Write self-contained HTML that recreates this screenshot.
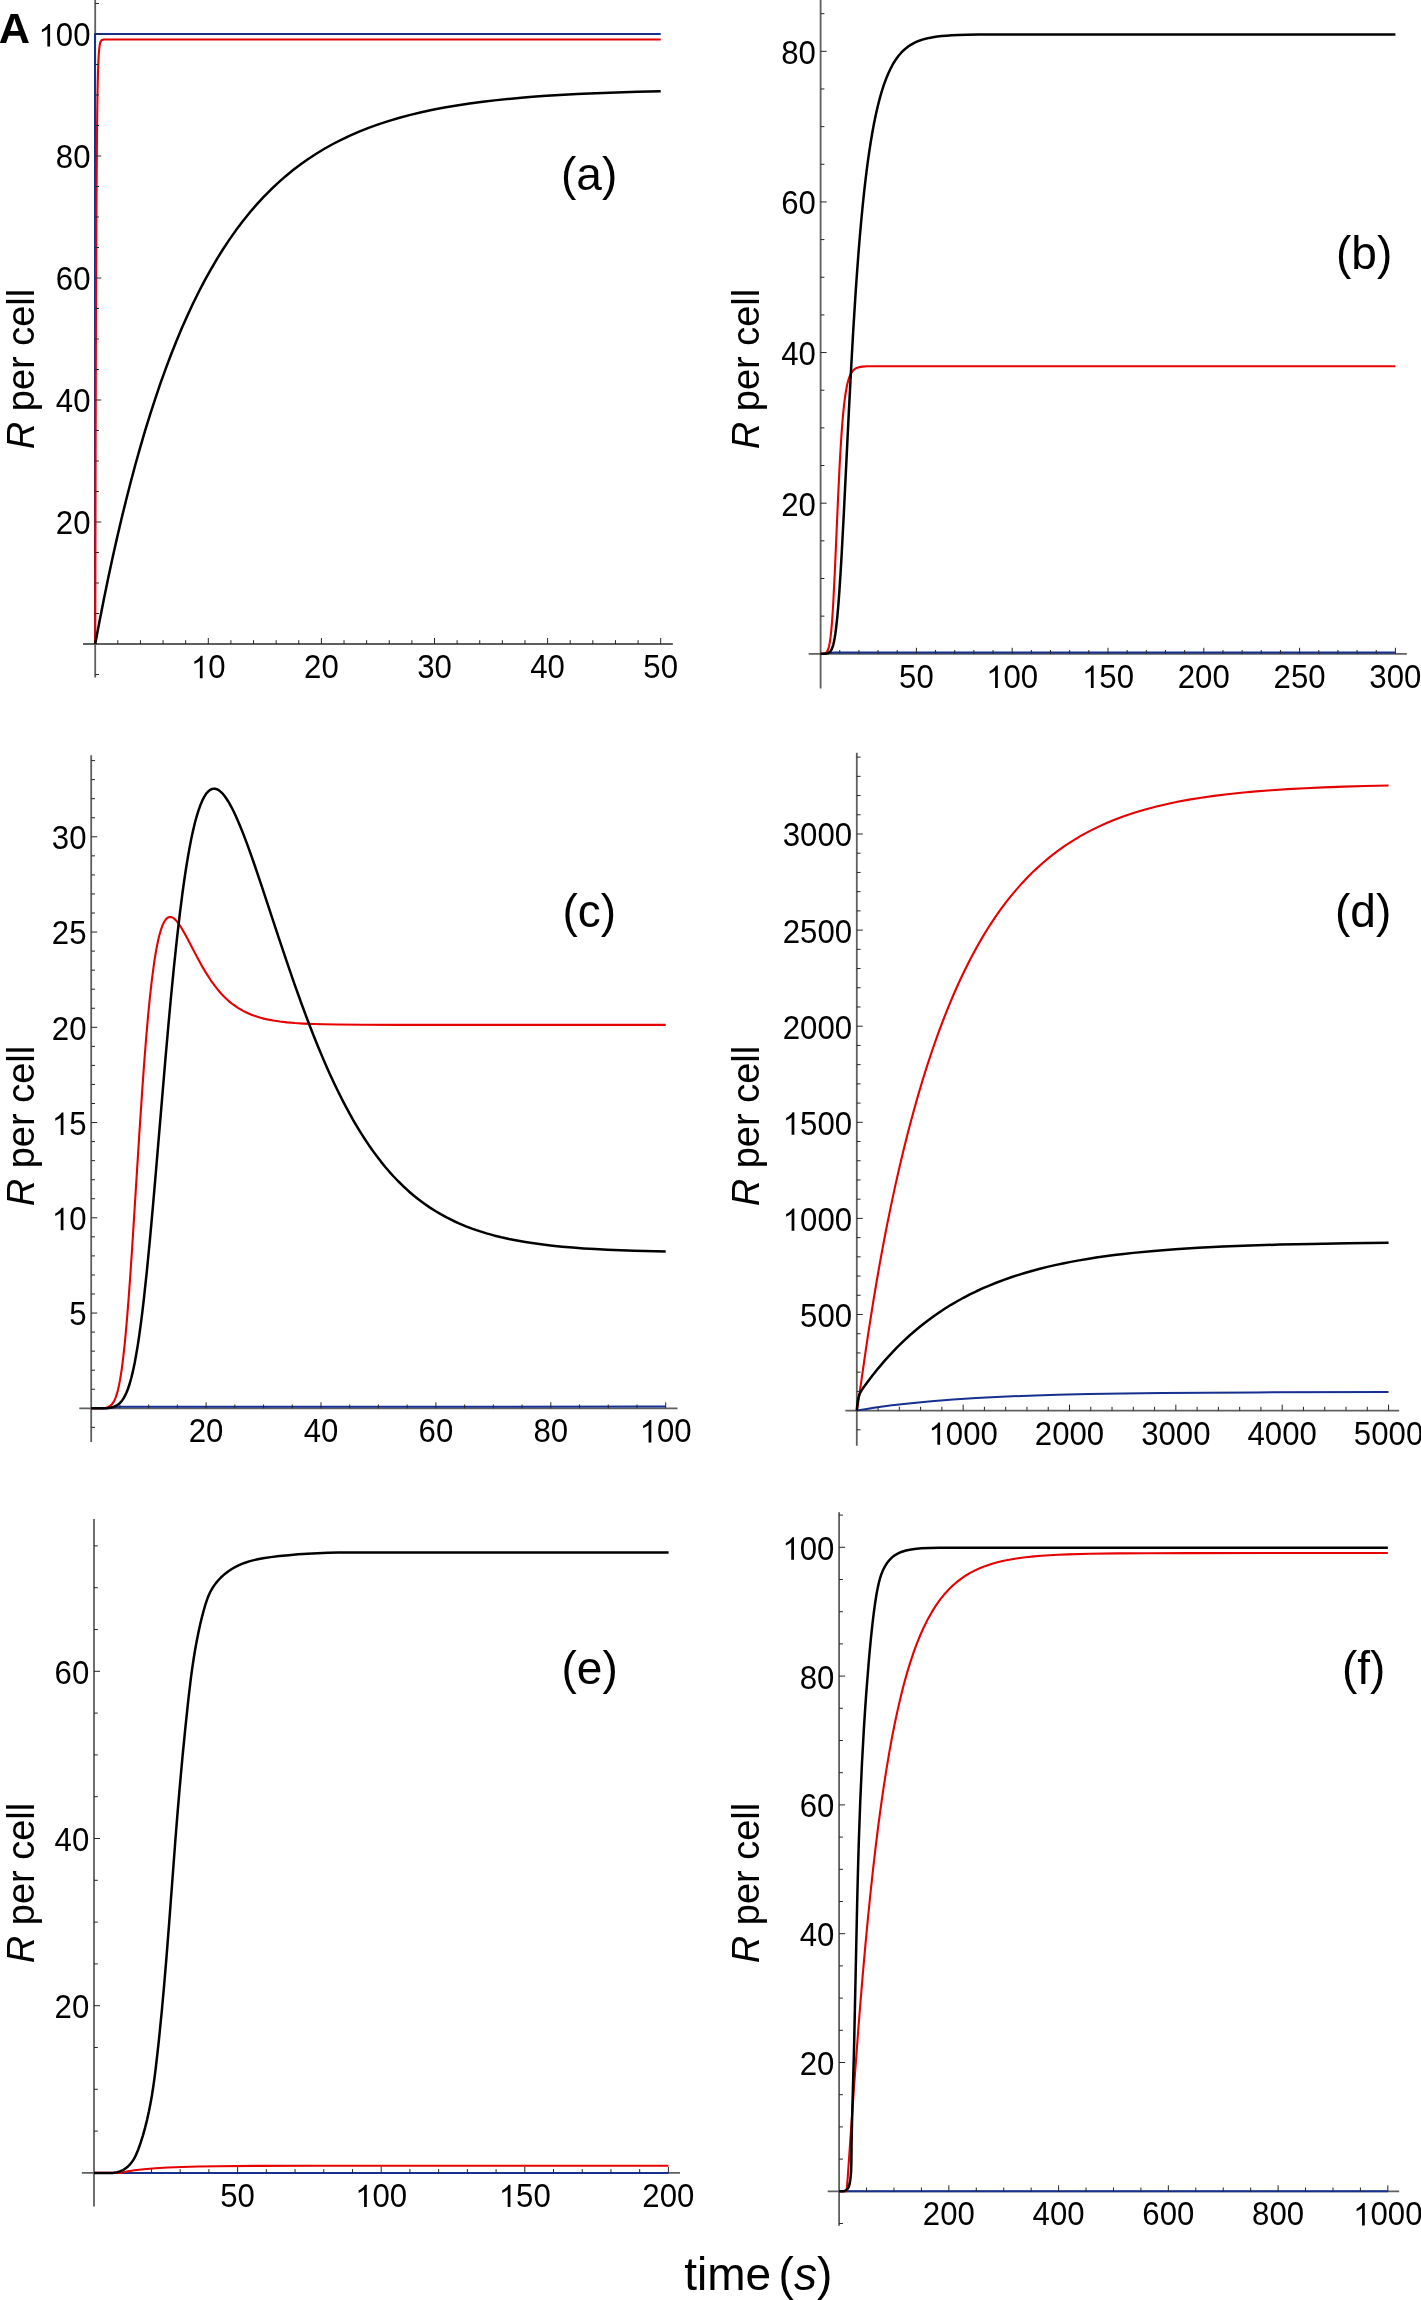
<!DOCTYPE html>
<html><head><meta charset="utf-8"><style>
html,body{margin:0;padding:0;background:#fff;}
svg{display:block;will-change:transform;}
text{font-family:"Liberation Sans", sans-serif;fill:#000;}
path{}
</style></head><body>
<svg xmlns="http://www.w3.org/2000/svg" width="1421" height="2300" viewBox="0 0 1421 2300">
<rect width="1421" height="2300" fill="#fff"/>
<g id="pa">
<line x1="83.00" y1="644.00" x2="672.80" y2="644.00" stroke="#5f5f5f" stroke-width="1.8"/>
<line x1="95.20" y1="0.00" x2="95.20" y2="677.50" stroke="#5f5f5f" stroke-width="1.8"/>
<path d="M95.00,644.00 L95.00,34.00 L660.70,34.00" fill="none" stroke="#15308f" stroke-width="2.0" stroke-linejoin="round" stroke-linecap="butt"/>
<path d="M95.20,644.00 L95.55,458.02 L95.96,314.72 L96.42,208.90 L96.98,134.25 L97.29,108.56 L97.62,88.02 L98.01,72.12 L98.44,60.17 L98.95,51.76 L99.55,46.06 L99.90,44.04 L100.30,42.48 L100.77,41.33 L101.33,40.52 L102.09,39.96 L103.11,39.65 L104.57,39.53 L107.45,39.49 L660.70,39.49" fill="none" stroke="#e60000" stroke-width="2.1" stroke-linejoin="round" stroke-linecap="butt"/>
<path d="M95.20,644.00 L99.42,621.70 L103.70,599.98 L108.05,578.84 L112.46,558.32 L116.92,538.37 L121.45,519.02 L126.06,500.21 L130.73,481.95 L135.47,464.25 L140.29,447.09 L145.18,430.47 L150.15,414.37 L155.20,398.77 L160.33,383.70 L165.56,369.11 L170.87,355.02 L176.26,341.43 L181.75,328.33 L187.33,315.68 L193.02,303.48 L198.82,291.73 L204.73,280.41 L210.75,269.53 L216.89,259.06 L223.16,249.01 L229.55,239.37 L236.08,230.12 L242.75,221.26 L249.56,212.78 L256.55,204.66 L263.67,196.91 L270.97,189.52 L278.06,182.82 L285.33,176.41 L292.77,170.31 L300.40,164.49 L308.21,158.97 L316.24,153.71 L324.47,148.73 L332.92,144.01 L341.60,139.56 L350.54,135.34 L359.73,131.38 L369.23,127.63 L379.01,124.12 L389.11,120.83 L399.57,117.74 L410.37,114.87 L421.31,112.25 L432.68,109.81 L444.47,107.54 L456.74,105.45 L469.49,103.52 L482.81,101.75 L496.73,100.12 L511.32,98.64 L526.50,97.30 L542.48,96.09 L559.30,95.01 L577.11,94.04 L596.00,93.18 L616.11,92.42 L637.60,91.76 L660.70,91.18" fill="none" stroke="#000000" stroke-width="2.5" stroke-linejoin="round" stroke-linecap="butt"/>
<line x1="117.82" y1="644.00" x2="117.82" y2="640.20" stroke="#262626" stroke-width="1"/>
<line x1="140.44" y1="644.00" x2="140.44" y2="640.20" stroke="#262626" stroke-width="1"/>
<line x1="163.06" y1="644.00" x2="163.06" y2="640.20" stroke="#262626" stroke-width="1"/>
<line x1="185.68" y1="644.00" x2="185.68" y2="640.20" stroke="#262626" stroke-width="1"/>
<line x1="208.30" y1="644.00" x2="208.30" y2="638.00" stroke="#262626" stroke-width="1"/>
<g transform="translate(190.95,678.15) scale(1,1.065)"><text x="0" y="0" font-size="31.2"> 0</text><path d="M765 0L585 0L585 1147Q520 1085 415 1023Q310 961 227 930L227 1104Q376 1174 488 1274Q600 1374 647 1466L765 1466Z" transform="translate(0.00,0) scale(0.015234,-0.014305)"/></g>
<line x1="230.92" y1="644.00" x2="230.92" y2="640.20" stroke="#262626" stroke-width="1"/>
<line x1="253.54" y1="644.00" x2="253.54" y2="640.20" stroke="#262626" stroke-width="1"/>
<line x1="276.16" y1="644.00" x2="276.16" y2="640.20" stroke="#262626" stroke-width="1"/>
<line x1="298.78" y1="644.00" x2="298.78" y2="640.20" stroke="#262626" stroke-width="1"/>
<line x1="321.40" y1="644.00" x2="321.40" y2="638.00" stroke="#262626" stroke-width="1"/>
<g transform="translate(304.05,678.15) scale(1,1.065)"><text x="0" y="0" font-size="31.2">20</text></g>
<line x1="344.02" y1="644.00" x2="344.02" y2="640.20" stroke="#262626" stroke-width="1"/>
<line x1="366.64" y1="644.00" x2="366.64" y2="640.20" stroke="#262626" stroke-width="1"/>
<line x1="389.26" y1="644.00" x2="389.26" y2="640.20" stroke="#262626" stroke-width="1"/>
<line x1="411.88" y1="644.00" x2="411.88" y2="640.20" stroke="#262626" stroke-width="1"/>
<line x1="434.50" y1="644.00" x2="434.50" y2="638.00" stroke="#262626" stroke-width="1"/>
<g transform="translate(417.15,678.15) scale(1,1.065)"><text x="0" y="0" font-size="31.2">30</text></g>
<line x1="457.12" y1="644.00" x2="457.12" y2="640.20" stroke="#262626" stroke-width="1"/>
<line x1="479.74" y1="644.00" x2="479.74" y2="640.20" stroke="#262626" stroke-width="1"/>
<line x1="502.36" y1="644.00" x2="502.36" y2="640.20" stroke="#262626" stroke-width="1"/>
<line x1="524.98" y1="644.00" x2="524.98" y2="640.20" stroke="#262626" stroke-width="1"/>
<line x1="547.60" y1="644.00" x2="547.60" y2="638.00" stroke="#262626" stroke-width="1"/>
<g transform="translate(530.25,678.15) scale(1,1.065)"><text x="0" y="0" font-size="31.2">40</text></g>
<line x1="570.22" y1="644.00" x2="570.22" y2="640.20" stroke="#262626" stroke-width="1"/>
<line x1="592.84" y1="644.00" x2="592.84" y2="640.20" stroke="#262626" stroke-width="1"/>
<line x1="615.46" y1="644.00" x2="615.46" y2="640.20" stroke="#262626" stroke-width="1"/>
<line x1="638.08" y1="644.00" x2="638.08" y2="640.20" stroke="#262626" stroke-width="1"/>
<line x1="660.70" y1="644.00" x2="660.70" y2="638.00" stroke="#262626" stroke-width="1"/>
<g transform="translate(643.35,678.15) scale(1,1.065)"><text x="0" y="0" font-size="31.2">50</text></g>
<line x1="95.20" y1="674.50" x2="99.00" y2="674.50" stroke="#262626" stroke-width="1"/>
<line x1="95.20" y1="613.50" x2="99.00" y2="613.50" stroke="#262626" stroke-width="1"/>
<line x1="95.20" y1="583.00" x2="99.00" y2="583.00" stroke="#262626" stroke-width="1"/>
<line x1="95.20" y1="552.50" x2="99.00" y2="552.50" stroke="#262626" stroke-width="1"/>
<line x1="95.20" y1="522.00" x2="101.20" y2="522.00" stroke="#262626" stroke-width="1"/>
<g transform="translate(55.80,534.40) scale(1,1.065)"><text x="0" y="0" font-size="31.2">20</text></g>
<line x1="95.20" y1="491.50" x2="99.00" y2="491.50" stroke="#262626" stroke-width="1"/>
<line x1="95.20" y1="461.00" x2="99.00" y2="461.00" stroke="#262626" stroke-width="1"/>
<line x1="95.20" y1="430.50" x2="99.00" y2="430.50" stroke="#262626" stroke-width="1"/>
<line x1="95.20" y1="400.00" x2="101.20" y2="400.00" stroke="#262626" stroke-width="1"/>
<g transform="translate(55.80,412.40) scale(1,1.065)"><text x="0" y="0" font-size="31.2">40</text></g>
<line x1="95.20" y1="369.50" x2="99.00" y2="369.50" stroke="#262626" stroke-width="1"/>
<line x1="95.20" y1="339.00" x2="99.00" y2="339.00" stroke="#262626" stroke-width="1"/>
<line x1="95.20" y1="308.50" x2="99.00" y2="308.50" stroke="#262626" stroke-width="1"/>
<line x1="95.20" y1="278.00" x2="101.20" y2="278.00" stroke="#262626" stroke-width="1"/>
<g transform="translate(55.80,290.40) scale(1,1.065)"><text x="0" y="0" font-size="31.2">60</text></g>
<line x1="95.20" y1="247.50" x2="99.00" y2="247.50" stroke="#262626" stroke-width="1"/>
<line x1="95.20" y1="217.00" x2="99.00" y2="217.00" stroke="#262626" stroke-width="1"/>
<line x1="95.20" y1="186.50" x2="99.00" y2="186.50" stroke="#262626" stroke-width="1"/>
<line x1="95.20" y1="156.00" x2="101.20" y2="156.00" stroke="#262626" stroke-width="1"/>
<g transform="translate(55.80,168.40) scale(1,1.065)"><text x="0" y="0" font-size="31.2">80</text></g>
<line x1="95.20" y1="125.50" x2="99.00" y2="125.50" stroke="#262626" stroke-width="1"/>
<line x1="95.20" y1="95.00" x2="99.00" y2="95.00" stroke="#262626" stroke-width="1"/>
<line x1="95.20" y1="64.50" x2="99.00" y2="64.50" stroke="#262626" stroke-width="1"/>
<line x1="95.20" y1="34.00" x2="101.20" y2="34.00" stroke="#262626" stroke-width="1"/>
<g transform="translate(38.44,46.40) scale(1,1.065)"><text x="0" y="0" font-size="31.2"> 00</text><path d="M765 0L585 0L585 1147Q520 1085 415 1023Q310 961 227 930L227 1104Q376 1174 488 1274Q600 1374 647 1466L765 1466Z" transform="translate(0.00,0) scale(0.015234,-0.014305)"/></g>
<line x1="95.20" y1="3.50" x2="99.00" y2="3.50" stroke="#262626" stroke-width="1"/>
<text x="561.00" y="190.10" font-size="46">(a)</text>
<text transform="translate(33.90,369.00) rotate(-90)" text-anchor="middle" font-size="38"><tspan font-style="italic">R</tspan> per cell</text>
</g>
<g id="pb">
<line x1="808.70" y1="653.80" x2="1406.80" y2="653.80" stroke="#5f5f5f" stroke-width="1.8"/>
<line x1="820.60" y1="0.00" x2="820.60" y2="688.40" stroke="#5f5f5f" stroke-width="1.8"/>
<path d="M820.60,653.80 L826.00,653.70 L829.50,653.00 L834.00,652.50 L840.00,652.40 L1395.40,652.40" fill="none" stroke="#15308f" stroke-width="2.0" stroke-linejoin="round" stroke-linecap="butt"/>
<path d="M820.60,653.78 L823.30,653.65 L824.21,653.50 L824.97,653.28 L825.65,652.95 L826.25,652.51 L826.79,651.94 L827.28,651.24 L827.76,650.31 L828.22,649.19 L829.05,646.28 L829.81,642.40 L830.53,637.38 L831.24,630.86 L831.93,622.89 L832.62,613.23 L833.32,601.75 L834.76,573.18 L838.00,499.36 L839.58,466.64 L840.48,450.37 L841.39,436.08 L842.30,423.69 L843.23,412.95 L844.36,402.36 L845.57,393.47 L846.87,386.20 L847.57,383.10 L848.29,380.37 L849.05,377.96 L849.86,375.85 L850.72,374.00 L851.64,372.41 L852.63,371.05 L853.70,369.91 L854.88,368.96 L856.18,368.20 L857.49,367.64 L858.95,367.20 L860.61,366.86 L862.54,366.60 L867.44,366.32 L875.69,366.22 L1395.40,366.20" fill="none" stroke="#e60000" stroke-width="2.1" stroke-linejoin="round" stroke-linecap="butt"/>
<path d="M820.60,653.79 L823.68,653.73 L825.64,653.62 L827.10,653.39 L828.26,653.03 L829.30,652.45 L830.21,651.62 L831.03,650.51 L831.78,649.09 L832.57,647.05 L833.31,644.54 L834.02,641.51 L834.70,637.89 L835.36,633.68 L836.01,628.78 L837.28,617.03 L838.33,605.13 L839.39,590.92 L840.48,574.30 L841.63,554.85 L843.78,514.42 L848.49,418.93 L850.74,375.24 L853.19,331.36 L855.59,293.20 L856.97,273.29 L858.36,254.67 L859.79,237.07 L861.25,220.57 L862.75,205.01 L864.29,190.39 L865.90,176.58 L867.55,163.64 L869.12,152.49 L870.74,141.95 L872.42,132.04 L874.16,122.75 L875.96,114.08 L877.82,105.96 L879.76,98.41 L881.77,91.39 L883.85,84.92 L886.02,78.96 L888.27,73.49 L890.63,68.47 L893.09,63.91 L895.67,59.78 L898.37,56.04 L901.23,52.69 L903.45,50.45 L905.77,48.40 L908.19,46.53 L910.73,44.84 L913.40,43.31 L916.22,41.94 L919.19,40.72 L922.35,39.64 L925.66,38.71 L929.21,37.90 L933.01,37.19 L937.14,36.59 L941.60,36.09 L946.50,35.67 L951.93,35.33 L958.01,35.06 L967.18,34.79 L978.39,34.62 L1012.48,34.46 L1395.40,34.44" fill="none" stroke="#000000" stroke-width="2.5" stroke-linejoin="round" stroke-linecap="butt"/>
<line x1="839.76" y1="653.80" x2="839.76" y2="650.00" stroke="#262626" stroke-width="1"/>
<line x1="858.92" y1="653.80" x2="858.92" y2="650.00" stroke="#262626" stroke-width="1"/>
<line x1="878.08" y1="653.80" x2="878.08" y2="650.00" stroke="#262626" stroke-width="1"/>
<line x1="897.24" y1="653.80" x2="897.24" y2="650.00" stroke="#262626" stroke-width="1"/>
<line x1="916.40" y1="653.80" x2="916.40" y2="647.80" stroke="#262626" stroke-width="1"/>
<g transform="translate(899.05,687.95) scale(1,1.065)"><text x="0" y="0" font-size="31.2">50</text></g>
<line x1="935.56" y1="653.80" x2="935.56" y2="650.00" stroke="#262626" stroke-width="1"/>
<line x1="954.72" y1="653.80" x2="954.72" y2="650.00" stroke="#262626" stroke-width="1"/>
<line x1="973.88" y1="653.80" x2="973.88" y2="650.00" stroke="#262626" stroke-width="1"/>
<line x1="993.04" y1="653.80" x2="993.04" y2="650.00" stroke="#262626" stroke-width="1"/>
<line x1="1012.20" y1="653.80" x2="1012.20" y2="647.80" stroke="#262626" stroke-width="1"/>
<g transform="translate(986.17,687.95) scale(1,1.065)"><text x="0" y="0" font-size="31.2"> 00</text><path d="M765 0L585 0L585 1147Q520 1085 415 1023Q310 961 227 930L227 1104Q376 1174 488 1274Q600 1374 647 1466L765 1466Z" transform="translate(0.00,0) scale(0.015234,-0.014305)"/></g>
<line x1="1031.36" y1="653.80" x2="1031.36" y2="650.00" stroke="#262626" stroke-width="1"/>
<line x1="1050.52" y1="653.80" x2="1050.52" y2="650.00" stroke="#262626" stroke-width="1"/>
<line x1="1069.68" y1="653.80" x2="1069.68" y2="650.00" stroke="#262626" stroke-width="1"/>
<line x1="1088.84" y1="653.80" x2="1088.84" y2="650.00" stroke="#262626" stroke-width="1"/>
<line x1="1108.00" y1="653.80" x2="1108.00" y2="647.80" stroke="#262626" stroke-width="1"/>
<g transform="translate(1081.97,687.95) scale(1,1.065)"><text x="0" y="0" font-size="31.2"> 50</text><path d="M765 0L585 0L585 1147Q520 1085 415 1023Q310 961 227 930L227 1104Q376 1174 488 1274Q600 1374 647 1466L765 1466Z" transform="translate(0.00,0) scale(0.015234,-0.014305)"/></g>
<line x1="1127.16" y1="653.80" x2="1127.16" y2="650.00" stroke="#262626" stroke-width="1"/>
<line x1="1146.32" y1="653.80" x2="1146.32" y2="650.00" stroke="#262626" stroke-width="1"/>
<line x1="1165.48" y1="653.80" x2="1165.48" y2="650.00" stroke="#262626" stroke-width="1"/>
<line x1="1184.64" y1="653.80" x2="1184.64" y2="650.00" stroke="#262626" stroke-width="1"/>
<line x1="1203.80" y1="653.80" x2="1203.80" y2="647.80" stroke="#262626" stroke-width="1"/>
<g transform="translate(1177.77,687.95) scale(1,1.065)"><text x="0" y="0" font-size="31.2">200</text></g>
<line x1="1222.96" y1="653.80" x2="1222.96" y2="650.00" stroke="#262626" stroke-width="1"/>
<line x1="1242.12" y1="653.80" x2="1242.12" y2="650.00" stroke="#262626" stroke-width="1"/>
<line x1="1261.28" y1="653.80" x2="1261.28" y2="650.00" stroke="#262626" stroke-width="1"/>
<line x1="1280.44" y1="653.80" x2="1280.44" y2="650.00" stroke="#262626" stroke-width="1"/>
<line x1="1299.60" y1="653.80" x2="1299.60" y2="647.80" stroke="#262626" stroke-width="1"/>
<g transform="translate(1273.57,687.95) scale(1,1.065)"><text x="0" y="0" font-size="31.2">250</text></g>
<line x1="1318.76" y1="653.80" x2="1318.76" y2="650.00" stroke="#262626" stroke-width="1"/>
<line x1="1337.92" y1="653.80" x2="1337.92" y2="650.00" stroke="#262626" stroke-width="1"/>
<line x1="1357.08" y1="653.80" x2="1357.08" y2="650.00" stroke="#262626" stroke-width="1"/>
<line x1="1376.24" y1="653.80" x2="1376.24" y2="650.00" stroke="#262626" stroke-width="1"/>
<line x1="1395.40" y1="653.80" x2="1395.40" y2="647.80" stroke="#262626" stroke-width="1"/>
<g transform="translate(1369.37,687.95) scale(1,1.065)"><text x="0" y="0" font-size="31.2">300</text></g>
<line x1="820.60" y1="616.14" x2="824.40" y2="616.14" stroke="#262626" stroke-width="1"/>
<line x1="820.60" y1="578.49" x2="824.40" y2="578.49" stroke="#262626" stroke-width="1"/>
<line x1="820.60" y1="540.83" x2="824.40" y2="540.83" stroke="#262626" stroke-width="1"/>
<line x1="820.60" y1="503.18" x2="826.60" y2="503.18" stroke="#262626" stroke-width="1"/>
<g transform="translate(781.20,515.58) scale(1,1.065)"><text x="0" y="0" font-size="31.2">20</text></g>
<line x1="820.60" y1="465.52" x2="824.40" y2="465.52" stroke="#262626" stroke-width="1"/>
<line x1="820.60" y1="427.87" x2="824.40" y2="427.87" stroke="#262626" stroke-width="1"/>
<line x1="820.60" y1="390.21" x2="824.40" y2="390.21" stroke="#262626" stroke-width="1"/>
<line x1="820.60" y1="352.56" x2="826.60" y2="352.56" stroke="#262626" stroke-width="1"/>
<g transform="translate(781.20,364.96) scale(1,1.065)"><text x="0" y="0" font-size="31.2">40</text></g>
<line x1="820.60" y1="314.90" x2="824.40" y2="314.90" stroke="#262626" stroke-width="1"/>
<line x1="820.60" y1="277.25" x2="824.40" y2="277.25" stroke="#262626" stroke-width="1"/>
<line x1="820.60" y1="239.59" x2="824.40" y2="239.59" stroke="#262626" stroke-width="1"/>
<line x1="820.60" y1="201.94" x2="826.60" y2="201.94" stroke="#262626" stroke-width="1"/>
<g transform="translate(781.20,214.34) scale(1,1.065)"><text x="0" y="0" font-size="31.2">60</text></g>
<line x1="820.60" y1="164.28" x2="824.40" y2="164.28" stroke="#262626" stroke-width="1"/>
<line x1="820.60" y1="126.63" x2="824.40" y2="126.63" stroke="#262626" stroke-width="1"/>
<line x1="820.60" y1="88.98" x2="824.40" y2="88.98" stroke="#262626" stroke-width="1"/>
<line x1="820.60" y1="51.32" x2="826.60" y2="51.32" stroke="#262626" stroke-width="1"/>
<g transform="translate(781.20,63.72) scale(1,1.065)"><text x="0" y="0" font-size="31.2">80</text></g>
<line x1="820.60" y1="13.66" x2="824.40" y2="13.66" stroke="#262626" stroke-width="1"/>
<text x="1336.00" y="268.70" font-size="46">(b)</text>
<text transform="translate(759.30,369.00) rotate(-90)" text-anchor="middle" font-size="38"><tspan font-style="italic">R</tspan> per cell</text>
</g>
<g id="pc">
<line x1="79.30" y1="1408.30" x2="677.50" y2="1408.30" stroke="#5f5f5f" stroke-width="1.8"/>
<line x1="91.20" y1="755.20" x2="91.20" y2="1442.00" stroke="#5f5f5f" stroke-width="1.8"/>
<path d="M91.20,1408.30 L108.00,1408.20 L113.00,1407.60 L119.00,1406.80 L125.00,1406.70 L665.70,1406.60" fill="none" stroke="#15308f" stroke-width="2.0" stroke-linejoin="round" stroke-linecap="butt"/>
<path d="M91.20,1408.30 L101.02,1408.20 L103.63,1408.04 L105.69,1407.75 L107.56,1407.26 L109.18,1406.54 L110.61,1405.56 L111.91,1404.29 L113.27,1402.45 L114.53,1400.14 L115.72,1397.32 L116.85,1393.95 L117.93,1389.98 L118.97,1385.41 L119.99,1380.13 L120.98,1374.18 L121.92,1367.80 L122.84,1360.69 L124.67,1344.30 L126.52,1324.63 L128.43,1301.14 L130.15,1277.55 L132.03,1249.71 L139.31,1134.09 L142.58,1085.07 L144.39,1060.25 L146.15,1038.09 L147.86,1018.31 L149.57,1000.59 L151.61,982.01 L153.67,966.04 L154.72,958.95 L155.78,952.48 L156.85,946.60 L157.94,941.25 L159.04,936.48 L160.18,932.23 L161.34,928.52 L162.52,925.34 L163.73,922.67 L164.98,920.53 L166.26,918.88 L166.92,918.25 L167.58,917.74 L168.79,917.14 L170.04,916.92 L171.33,917.09 L172.68,917.64 L174.07,918.57 L175.53,919.89 L177.08,921.62 L178.71,923.76 L181.34,927.76 L184.36,932.94 L187.53,938.81 L195.10,953.39 L198.78,960.32 L202.74,967.41 L206.50,973.69 L210.78,980.27 L215.04,986.17 L217.18,988.89 L219.34,991.48 L221.52,993.93 L223.72,996.25 L225.98,998.48 L228.29,1000.59 L230.63,1002.58 L233.02,1004.46 L235.46,1006.22 L237.96,1007.89 L240.52,1009.44 L243.13,1010.90 L245.83,1012.26 L248.59,1013.53 L251.44,1014.70 L254.39,1015.80 L257.47,1016.82 L260.63,1017.76 L263.93,1018.62 L267.35,1019.40 L273.38,1020.56 L279.88,1021.54 L286.97,1022.36 L294.78,1023.04 L303.37,1023.58 L313.05,1024.00 L324.11,1024.32 L337.04,1024.55 L362.72,1024.77 L401.50,1024.87 L665.70,1024.90" fill="none" stroke="#e60000" stroke-width="2.1" stroke-linejoin="round" stroke-linecap="butt"/>
<path d="M91.20,1408.30 L99.51,1408.26 L104.37,1408.14 L108.10,1407.88 L111.09,1407.44 L113.85,1406.70 L115.09,1406.22 L116.26,1405.65 L117.38,1405.00 L118.44,1404.25 L119.46,1403.40 L120.44,1402.44 L121.51,1401.23 L122.53,1399.89 L123.52,1398.40 L124.48,1396.75 L126.33,1392.96 L128.10,1388.49 L129.82,1383.26 L131.48,1377.25 L133.11,1370.41 L134.71,1362.72 L136.21,1354.60 L137.71,1345.61 L139.20,1335.70 L140.70,1324.88 L142.20,1313.05 L143.73,1300.20 L146.86,1271.05 L149.74,1241.57 L152.88,1206.87 L156.07,1169.88 L165.22,1061.34 L168.13,1028.25 L170.79,999.26 L173.87,967.71 L176.85,939.55 L179.76,914.30 L182.64,891.78 L184.37,879.47 L186.09,868.04 L187.82,857.43 L189.57,847.62 L191.32,838.63 L193.09,830.43 L194.87,822.98 L196.68,816.29 L198.52,810.33 L200.38,805.12 L202.27,800.65 L204.20,796.89 L205.17,795.28 L206.16,793.85 L207.15,792.59 L208.16,791.51 L209.18,790.60 L210.21,789.88 L211.25,789.33 L212.30,788.95 L213.75,788.72 L215.24,788.82 L216.75,789.24 L218.29,789.99 L219.87,791.07 L221.47,792.48 L223.10,794.22 L224.79,796.30 L226.50,798.71 L228.25,801.46 L230.06,804.55 L231.90,807.99 L233.81,811.81 L235.78,816.00 L239.89,825.47 L243.08,833.40 L246.50,842.38 L250.14,852.39 L254.14,863.76 L261.78,886.33 L278.44,936.85 L286.17,959.94 L294.30,983.55 L301.88,1004.74 L306.10,1016.12 L310.24,1026.98 L314.35,1037.44 L318.40,1047.45 L322.45,1057.13 L326.47,1066.43 L330.49,1075.40 L334.48,1083.99 L338.25,1091.80 L342.04,1099.38 L345.83,1106.67 L349.62,1113.69 L353.47,1120.53 L357.32,1127.09 L361.20,1133.42 L365.11,1139.53 L369.04,1145.41 L373.04,1151.10 L377.06,1156.57 L381.14,1161.85 L385.27,1166.94 L389.44,1171.81 L393.66,1176.49 L397.97,1181.01 L403.00,1185.97 L408.11,1190.70 L413.34,1195.21 L418.65,1199.48 L424.08,1203.53 L429.63,1207.37 L435.31,1211.01 L441.12,1214.44 L447.06,1217.68 L453.18,1220.74 L459.47,1223.61 L465.94,1226.30 L472.60,1228.83 L479.47,1231.18 L486.56,1233.38 L493.89,1235.42 L501.30,1237.27 L508.97,1238.98 L516.95,1240.56 L525.26,1242.02 L533.90,1243.36 L542.92,1244.58 L552.37,1245.69 L562.28,1246.69 L572.63,1247.59 L583.54,1248.40 L595.09,1249.12 L607.36,1249.76 L620.40,1250.32 L634.36,1250.80 L665.70,1251.58" fill="none" stroke="#000000" stroke-width="2.5" stroke-linejoin="round" stroke-linecap="butt"/>
<line x1="119.93" y1="1408.30" x2="119.93" y2="1404.50" stroke="#262626" stroke-width="1"/>
<line x1="148.65" y1="1408.30" x2="148.65" y2="1404.50" stroke="#262626" stroke-width="1"/>
<line x1="177.38" y1="1408.30" x2="177.38" y2="1404.50" stroke="#262626" stroke-width="1"/>
<line x1="206.10" y1="1408.30" x2="206.10" y2="1402.30" stroke="#262626" stroke-width="1"/>
<g transform="translate(188.75,1442.45) scale(1,1.065)"><text x="0" y="0" font-size="31.2">20</text></g>
<line x1="234.82" y1="1408.30" x2="234.82" y2="1404.50" stroke="#262626" stroke-width="1"/>
<line x1="263.55" y1="1408.30" x2="263.55" y2="1404.50" stroke="#262626" stroke-width="1"/>
<line x1="292.28" y1="1408.30" x2="292.28" y2="1404.50" stroke="#262626" stroke-width="1"/>
<line x1="321.00" y1="1408.30" x2="321.00" y2="1402.30" stroke="#262626" stroke-width="1"/>
<g transform="translate(303.65,1442.45) scale(1,1.065)"><text x="0" y="0" font-size="31.2">40</text></g>
<line x1="349.72" y1="1408.30" x2="349.72" y2="1404.50" stroke="#262626" stroke-width="1"/>
<line x1="378.45" y1="1408.30" x2="378.45" y2="1404.50" stroke="#262626" stroke-width="1"/>
<line x1="407.18" y1="1408.30" x2="407.18" y2="1404.50" stroke="#262626" stroke-width="1"/>
<line x1="435.90" y1="1408.30" x2="435.90" y2="1402.30" stroke="#262626" stroke-width="1"/>
<g transform="translate(418.55,1442.45) scale(1,1.065)"><text x="0" y="0" font-size="31.2">60</text></g>
<line x1="464.62" y1="1408.30" x2="464.62" y2="1404.50" stroke="#262626" stroke-width="1"/>
<line x1="493.35" y1="1408.30" x2="493.35" y2="1404.50" stroke="#262626" stroke-width="1"/>
<line x1="522.08" y1="1408.30" x2="522.08" y2="1404.50" stroke="#262626" stroke-width="1"/>
<line x1="550.80" y1="1408.30" x2="550.80" y2="1402.30" stroke="#262626" stroke-width="1"/>
<g transform="translate(533.45,1442.45) scale(1,1.065)"><text x="0" y="0" font-size="31.2">80</text></g>
<line x1="579.52" y1="1408.30" x2="579.52" y2="1404.50" stroke="#262626" stroke-width="1"/>
<line x1="608.25" y1="1408.30" x2="608.25" y2="1404.50" stroke="#262626" stroke-width="1"/>
<line x1="636.98" y1="1408.30" x2="636.98" y2="1404.50" stroke="#262626" stroke-width="1"/>
<line x1="665.70" y1="1408.30" x2="665.70" y2="1402.30" stroke="#262626" stroke-width="1"/>
<g transform="translate(639.67,1442.45) scale(1,1.065)"><text x="0" y="0" font-size="31.2"> 00</text><path d="M765 0L585 0L585 1147Q520 1085 415 1023Q310 961 227 930L227 1104Q376 1174 488 1274Q600 1374 647 1466L765 1466Z" transform="translate(0.00,0) scale(0.015234,-0.014305)"/></g>
<line x1="91.20" y1="1427.35" x2="95.00" y2="1427.35" stroke="#262626" stroke-width="1"/>
<line x1="91.20" y1="1389.25" x2="95.00" y2="1389.25" stroke="#262626" stroke-width="1"/>
<line x1="91.20" y1="1370.20" x2="95.00" y2="1370.20" stroke="#262626" stroke-width="1"/>
<line x1="91.20" y1="1351.15" x2="95.00" y2="1351.15" stroke="#262626" stroke-width="1"/>
<line x1="91.20" y1="1332.10" x2="95.00" y2="1332.10" stroke="#262626" stroke-width="1"/>
<line x1="91.20" y1="1313.05" x2="97.20" y2="1313.05" stroke="#262626" stroke-width="1"/>
<g transform="translate(69.15,1325.45) scale(1,1.065)"><text x="0" y="0" font-size="31.2">5</text></g>
<line x1="91.20" y1="1294.00" x2="95.00" y2="1294.00" stroke="#262626" stroke-width="1"/>
<line x1="91.20" y1="1274.95" x2="95.00" y2="1274.95" stroke="#262626" stroke-width="1"/>
<line x1="91.20" y1="1255.90" x2="95.00" y2="1255.90" stroke="#262626" stroke-width="1"/>
<line x1="91.20" y1="1236.85" x2="95.00" y2="1236.85" stroke="#262626" stroke-width="1"/>
<line x1="91.20" y1="1217.80" x2="97.20" y2="1217.80" stroke="#262626" stroke-width="1"/>
<g transform="translate(51.80,1230.20) scale(1,1.065)"><text x="0" y="0" font-size="31.2"> 0</text><path d="M765 0L585 0L585 1147Q520 1085 415 1023Q310 961 227 930L227 1104Q376 1174 488 1274Q600 1374 647 1466L765 1466Z" transform="translate(0.00,0) scale(0.015234,-0.014305)"/></g>
<line x1="91.20" y1="1198.75" x2="95.00" y2="1198.75" stroke="#262626" stroke-width="1"/>
<line x1="91.20" y1="1179.70" x2="95.00" y2="1179.70" stroke="#262626" stroke-width="1"/>
<line x1="91.20" y1="1160.65" x2="95.00" y2="1160.65" stroke="#262626" stroke-width="1"/>
<line x1="91.20" y1="1141.60" x2="95.00" y2="1141.60" stroke="#262626" stroke-width="1"/>
<line x1="91.20" y1="1122.55" x2="97.20" y2="1122.55" stroke="#262626" stroke-width="1"/>
<g transform="translate(51.80,1134.95) scale(1,1.065)"><text x="0" y="0" font-size="31.2"> 5</text><path d="M765 0L585 0L585 1147Q520 1085 415 1023Q310 961 227 930L227 1104Q376 1174 488 1274Q600 1374 647 1466L765 1466Z" transform="translate(0.00,0) scale(0.015234,-0.014305)"/></g>
<line x1="91.20" y1="1103.50" x2="95.00" y2="1103.50" stroke="#262626" stroke-width="1"/>
<line x1="91.20" y1="1084.45" x2="95.00" y2="1084.45" stroke="#262626" stroke-width="1"/>
<line x1="91.20" y1="1065.40" x2="95.00" y2="1065.40" stroke="#262626" stroke-width="1"/>
<line x1="91.20" y1="1046.35" x2="95.00" y2="1046.35" stroke="#262626" stroke-width="1"/>
<line x1="91.20" y1="1027.30" x2="97.20" y2="1027.30" stroke="#262626" stroke-width="1"/>
<g transform="translate(51.80,1039.70) scale(1,1.065)"><text x="0" y="0" font-size="31.2">20</text></g>
<line x1="91.20" y1="1008.25" x2="95.00" y2="1008.25" stroke="#262626" stroke-width="1"/>
<line x1="91.20" y1="989.20" x2="95.00" y2="989.20" stroke="#262626" stroke-width="1"/>
<line x1="91.20" y1="970.15" x2="95.00" y2="970.15" stroke="#262626" stroke-width="1"/>
<line x1="91.20" y1="951.10" x2="95.00" y2="951.10" stroke="#262626" stroke-width="1"/>
<line x1="91.20" y1="932.05" x2="97.20" y2="932.05" stroke="#262626" stroke-width="1"/>
<g transform="translate(51.80,944.45) scale(1,1.065)"><text x="0" y="0" font-size="31.2">25</text></g>
<line x1="91.20" y1="913.00" x2="95.00" y2="913.00" stroke="#262626" stroke-width="1"/>
<line x1="91.20" y1="893.95" x2="95.00" y2="893.95" stroke="#262626" stroke-width="1"/>
<line x1="91.20" y1="874.90" x2="95.00" y2="874.90" stroke="#262626" stroke-width="1"/>
<line x1="91.20" y1="855.85" x2="95.00" y2="855.85" stroke="#262626" stroke-width="1"/>
<line x1="91.20" y1="836.80" x2="97.20" y2="836.80" stroke="#262626" stroke-width="1"/>
<g transform="translate(51.80,849.20) scale(1,1.065)"><text x="0" y="0" font-size="31.2">30</text></g>
<line x1="91.20" y1="817.75" x2="95.00" y2="817.75" stroke="#262626" stroke-width="1"/>
<line x1="91.20" y1="798.70" x2="95.00" y2="798.70" stroke="#262626" stroke-width="1"/>
<line x1="91.20" y1="779.65" x2="95.00" y2="779.65" stroke="#262626" stroke-width="1"/>
<line x1="91.20" y1="760.60" x2="95.00" y2="760.60" stroke="#262626" stroke-width="1"/>
<text x="562.50" y="927.00" font-size="46">(c)</text>
<text transform="translate(33.90,1126.10) rotate(-90)" text-anchor="middle" font-size="38"><tspan font-style="italic">R</tspan> per cell</text>
</g>
<g id="pd">
<line x1="845.40" y1="1410.60" x2="1399.20" y2="1410.60" stroke="#5f5f5f" stroke-width="1.8"/>
<line x1="856.80" y1="752.70" x2="856.80" y2="1445.80" stroke="#5f5f5f" stroke-width="1.8"/>
<path d="M856.80,1410.60 L865.23,1409.18 L873.88,1407.83 L882.78,1406.56 L891.93,1405.36 L911.05,1403.15 L931.40,1401.20 L953.09,1399.50 L976.36,1398.01 L1001.44,1396.74 L1028.67,1395.66 L1057.15,1394.79 L1088.44,1394.07 L1123.11,1393.48 L1161.99,1393.01 L1205.49,1392.66 L1255.87,1392.39 L1388.55,1392.08" fill="none" stroke="#15308f" stroke-width="2.0" stroke-linejoin="round" stroke-linecap="butt"/>
<path d="M856.80,1410.60 L857.96,1403.80 L859.39,1394.56 L865.19,1354.22 L868.19,1333.96 L873.32,1301.23 L876.68,1281.21 L880.11,1261.68 L883.65,1242.51 L887.29,1223.79 L891.32,1204.09 L895.45,1184.90 L899.70,1166.19 L904.05,1148.01 L908.52,1130.34 L913.08,1113.21 L917.73,1096.63 L922.50,1080.56 L927.41,1064.89 L932.43,1049.75 L937.56,1035.15 L942.79,1021.08 L948.13,1007.53 L953.58,994.52 L959.15,982.00 L964.84,969.99 L970.65,958.48 L976.59,947.45 L982.66,936.89 L988.87,926.80 L995.22,917.17 L1001.74,907.96 L1008.41,899.19 L1015.24,890.85 L1021.78,883.43 L1028.51,876.34 L1035.40,869.60 L1042.44,863.21 L1049.68,857.15 L1057.12,851.39 L1064.78,845.94 L1072.65,840.79 L1080.73,835.95 L1089.08,831.38 L1097.67,827.10 L1106.55,823.07 L1115.72,819.31 L1125.21,815.79 L1135.05,812.51 L1145.26,809.46 L1155.58,806.71 L1166.29,804.17 L1177.46,801.81 L1189.08,799.65 L1201.23,797.67 L1213.94,795.86 L1227.26,794.21 L1241.27,792.72 L1255.90,791.39 L1271.37,790.20 L1287.75,789.14 L1305.19,788.20 L1323.78,787.38 L1343.72,786.67 L1365.23,786.06 L1388.55,785.54" fill="none" stroke="#e60000" stroke-width="2.1" stroke-linejoin="round" stroke-linecap="butt"/>
<path d="M856.80,1410.60 L857.27,1405.29 L857.80,1401.08 L858.44,1397.76 L859.23,1395.06 L860.15,1392.87 L861.41,1390.62 L863.32,1387.75 L866.43,1383.43 L872.25,1375.75 L878.22,1368.32 L884.29,1361.18 L890.48,1354.31 L896.80,1347.71 L903.24,1341.37 L909.82,1335.29 L916.55,1329.47 L922.04,1324.98 L927.63,1320.65 L933.33,1316.47 L939.13,1312.43 L945.04,1308.55 L951.06,1304.81 L957.21,1301.22 L963.47,1297.77 L969.86,1294.45 L976.38,1291.26 L983.04,1288.21 L989.85,1285.29 L996.82,1282.49 L1003.92,1279.82 L1011.20,1277.26 L1018.65,1274.83 L1025.59,1272.71 L1032.69,1270.68 L1039.94,1268.75 L1047.39,1266.90 L1054.99,1265.15 L1062.81,1263.47 L1070.81,1261.88 L1079.03,1260.36 L1087.46,1258.93 L1096.10,1257.58 L1105.01,1256.29 L1114.18,1255.08 L1123.62,1253.94 L1133.35,1252.87 L1153.77,1250.92 L1175.20,1249.24 L1198.23,1247.79 L1223.06,1246.54 L1250.02,1245.48 L1279.38,1244.60 L1311.73,1243.88 L1347.79,1243.30 L1388.55,1242.84" fill="none" stroke="#000000" stroke-width="2.5" stroke-linejoin="round" stroke-linecap="butt"/>
<line x1="878.07" y1="1410.60" x2="878.07" y2="1406.80" stroke="#262626" stroke-width="1"/>
<line x1="899.34" y1="1410.60" x2="899.34" y2="1406.80" stroke="#262626" stroke-width="1"/>
<line x1="920.61" y1="1410.60" x2="920.61" y2="1406.80" stroke="#262626" stroke-width="1"/>
<line x1="941.88" y1="1410.60" x2="941.88" y2="1406.80" stroke="#262626" stroke-width="1"/>
<line x1="963.15" y1="1410.60" x2="963.15" y2="1404.60" stroke="#262626" stroke-width="1"/>
<g transform="translate(928.45,1444.75) scale(1,1.065)"><text x="0" y="0" font-size="31.2"> 000</text><path d="M765 0L585 0L585 1147Q520 1085 415 1023Q310 961 227 930L227 1104Q376 1174 488 1274Q600 1374 647 1466L765 1466Z" transform="translate(0.00,0) scale(0.015234,-0.014305)"/></g>
<line x1="984.42" y1="1410.60" x2="984.42" y2="1406.80" stroke="#262626" stroke-width="1"/>
<line x1="1005.69" y1="1410.60" x2="1005.69" y2="1406.80" stroke="#262626" stroke-width="1"/>
<line x1="1026.96" y1="1410.60" x2="1026.96" y2="1406.80" stroke="#262626" stroke-width="1"/>
<line x1="1048.23" y1="1410.60" x2="1048.23" y2="1406.80" stroke="#262626" stroke-width="1"/>
<line x1="1069.50" y1="1410.60" x2="1069.50" y2="1404.60" stroke="#262626" stroke-width="1"/>
<g transform="translate(1034.80,1444.75) scale(1,1.065)"><text x="0" y="0" font-size="31.2">2000</text></g>
<line x1="1090.77" y1="1410.60" x2="1090.77" y2="1406.80" stroke="#262626" stroke-width="1"/>
<line x1="1112.04" y1="1410.60" x2="1112.04" y2="1406.80" stroke="#262626" stroke-width="1"/>
<line x1="1133.31" y1="1410.60" x2="1133.31" y2="1406.80" stroke="#262626" stroke-width="1"/>
<line x1="1154.58" y1="1410.60" x2="1154.58" y2="1406.80" stroke="#262626" stroke-width="1"/>
<line x1="1175.85" y1="1410.60" x2="1175.85" y2="1404.60" stroke="#262626" stroke-width="1"/>
<g transform="translate(1141.15,1444.75) scale(1,1.065)"><text x="0" y="0" font-size="31.2">3000</text></g>
<line x1="1197.12" y1="1410.60" x2="1197.12" y2="1406.80" stroke="#262626" stroke-width="1"/>
<line x1="1218.39" y1="1410.60" x2="1218.39" y2="1406.80" stroke="#262626" stroke-width="1"/>
<line x1="1239.66" y1="1410.60" x2="1239.66" y2="1406.80" stroke="#262626" stroke-width="1"/>
<line x1="1260.93" y1="1410.60" x2="1260.93" y2="1406.80" stroke="#262626" stroke-width="1"/>
<line x1="1282.20" y1="1410.60" x2="1282.20" y2="1404.60" stroke="#262626" stroke-width="1"/>
<g transform="translate(1247.50,1444.75) scale(1,1.065)"><text x="0" y="0" font-size="31.2">4000</text></g>
<line x1="1303.47" y1="1410.60" x2="1303.47" y2="1406.80" stroke="#262626" stroke-width="1"/>
<line x1="1324.74" y1="1410.60" x2="1324.74" y2="1406.80" stroke="#262626" stroke-width="1"/>
<line x1="1346.01" y1="1410.60" x2="1346.01" y2="1406.80" stroke="#262626" stroke-width="1"/>
<line x1="1367.28" y1="1410.60" x2="1367.28" y2="1406.80" stroke="#262626" stroke-width="1"/>
<line x1="1388.55" y1="1410.60" x2="1388.55" y2="1404.60" stroke="#262626" stroke-width="1"/>
<g transform="translate(1353.85,1444.75) scale(1,1.065)"><text x="0" y="0" font-size="31.2">5000</text></g>
<line x1="856.80" y1="1429.82" x2="860.60" y2="1429.82" stroke="#262626" stroke-width="1"/>
<line x1="856.80" y1="1391.38" x2="860.60" y2="1391.38" stroke="#262626" stroke-width="1"/>
<line x1="856.80" y1="1372.16" x2="860.60" y2="1372.16" stroke="#262626" stroke-width="1"/>
<line x1="856.80" y1="1352.94" x2="860.60" y2="1352.94" stroke="#262626" stroke-width="1"/>
<line x1="856.80" y1="1333.72" x2="860.60" y2="1333.72" stroke="#262626" stroke-width="1"/>
<line x1="856.80" y1="1314.50" x2="862.80" y2="1314.50" stroke="#262626" stroke-width="1"/>
<g transform="translate(800.04,1326.90) scale(1,1.065)"><text x="0" y="0" font-size="31.2">500</text></g>
<line x1="856.80" y1="1295.28" x2="860.60" y2="1295.28" stroke="#262626" stroke-width="1"/>
<line x1="856.80" y1="1276.06" x2="860.60" y2="1276.06" stroke="#262626" stroke-width="1"/>
<line x1="856.80" y1="1256.84" x2="860.60" y2="1256.84" stroke="#262626" stroke-width="1"/>
<line x1="856.80" y1="1237.62" x2="860.60" y2="1237.62" stroke="#262626" stroke-width="1"/>
<line x1="856.80" y1="1218.40" x2="862.80" y2="1218.40" stroke="#262626" stroke-width="1"/>
<g transform="translate(782.69,1230.80) scale(1,1.065)"><text x="0" y="0" font-size="31.2"> 000</text><path d="M765 0L585 0L585 1147Q520 1085 415 1023Q310 961 227 930L227 1104Q376 1174 488 1274Q600 1374 647 1466L765 1466Z" transform="translate(0.00,0) scale(0.015234,-0.014305)"/></g>
<line x1="856.80" y1="1199.18" x2="860.60" y2="1199.18" stroke="#262626" stroke-width="1"/>
<line x1="856.80" y1="1179.96" x2="860.60" y2="1179.96" stroke="#262626" stroke-width="1"/>
<line x1="856.80" y1="1160.74" x2="860.60" y2="1160.74" stroke="#262626" stroke-width="1"/>
<line x1="856.80" y1="1141.52" x2="860.60" y2="1141.52" stroke="#262626" stroke-width="1"/>
<line x1="856.80" y1="1122.30" x2="862.80" y2="1122.30" stroke="#262626" stroke-width="1"/>
<g transform="translate(782.69,1134.70) scale(1,1.065)"><text x="0" y="0" font-size="31.2"> 500</text><path d="M765 0L585 0L585 1147Q520 1085 415 1023Q310 961 227 930L227 1104Q376 1174 488 1274Q600 1374 647 1466L765 1466Z" transform="translate(0.00,0) scale(0.015234,-0.014305)"/></g>
<line x1="856.80" y1="1103.08" x2="860.60" y2="1103.08" stroke="#262626" stroke-width="1"/>
<line x1="856.80" y1="1083.86" x2="860.60" y2="1083.86" stroke="#262626" stroke-width="1"/>
<line x1="856.80" y1="1064.64" x2="860.60" y2="1064.64" stroke="#262626" stroke-width="1"/>
<line x1="856.80" y1="1045.42" x2="860.60" y2="1045.42" stroke="#262626" stroke-width="1"/>
<line x1="856.80" y1="1026.20" x2="862.80" y2="1026.20" stroke="#262626" stroke-width="1"/>
<g transform="translate(782.69,1038.60) scale(1,1.065)"><text x="0" y="0" font-size="31.2">2000</text></g>
<line x1="856.80" y1="1006.98" x2="860.60" y2="1006.98" stroke="#262626" stroke-width="1"/>
<line x1="856.80" y1="987.76" x2="860.60" y2="987.76" stroke="#262626" stroke-width="1"/>
<line x1="856.80" y1="968.54" x2="860.60" y2="968.54" stroke="#262626" stroke-width="1"/>
<line x1="856.80" y1="949.32" x2="860.60" y2="949.32" stroke="#262626" stroke-width="1"/>
<line x1="856.80" y1="930.10" x2="862.80" y2="930.10" stroke="#262626" stroke-width="1"/>
<g transform="translate(782.69,942.50) scale(1,1.065)"><text x="0" y="0" font-size="31.2">2500</text></g>
<line x1="856.80" y1="910.88" x2="860.60" y2="910.88" stroke="#262626" stroke-width="1"/>
<line x1="856.80" y1="891.66" x2="860.60" y2="891.66" stroke="#262626" stroke-width="1"/>
<line x1="856.80" y1="872.44" x2="860.60" y2="872.44" stroke="#262626" stroke-width="1"/>
<line x1="856.80" y1="853.22" x2="860.60" y2="853.22" stroke="#262626" stroke-width="1"/>
<line x1="856.80" y1="834.00" x2="862.80" y2="834.00" stroke="#262626" stroke-width="1"/>
<g transform="translate(782.69,846.40) scale(1,1.065)"><text x="0" y="0" font-size="31.2">3000</text></g>
<line x1="856.80" y1="814.78" x2="860.60" y2="814.78" stroke="#262626" stroke-width="1"/>
<line x1="856.80" y1="795.56" x2="860.60" y2="795.56" stroke="#262626" stroke-width="1"/>
<line x1="856.80" y1="776.34" x2="860.60" y2="776.34" stroke="#262626" stroke-width="1"/>
<line x1="856.80" y1="757.12" x2="860.60" y2="757.12" stroke="#262626" stroke-width="1"/>
<text x="1335.00" y="927.30" font-size="46">(d)</text>
<text transform="translate(759.30,1126.10) rotate(-90)" text-anchor="middle" font-size="38"><tspan font-style="italic">R</tspan> per cell</text>
</g>
<g id="pe">
<line x1="81.80" y1="2172.90" x2="680.00" y2="2172.90" stroke="#5f5f5f" stroke-width="1.8"/>
<line x1="94.00" y1="1519.00" x2="94.00" y2="2206.60" stroke="#5f5f5f" stroke-width="1.8"/>
<path d="M94.00,2172.90 L668.40,2172.90" fill="none" stroke="#15308f" stroke-width="2.0" stroke-linejoin="round" stroke-linecap="butt"/>
<path d="M94.00,2172.90 L121.65,2172.90 L123.27,2172.35 L126.30,2171.65 L130.05,2170.96 L134.38,2170.31 L144.04,2169.18 L155.32,2168.24 L167.76,2167.51 L182.03,2166.94 L198.55,2166.50 L218.02,2166.18 L255.93,2165.88 L312.48,2165.74 L668.40,2165.70" fill="none" stroke="#e60000" stroke-width="2.1" stroke-linejoin="round" stroke-linecap="butt"/>
<path d="M94.00,2172.90 L110.00,2172.90 L112.35,2172.90 L113.68,2172.81 L115.34,2172.60 L117.12,2172.24 L118.84,2171.77 L120.50,2171.18 L122.08,2170.48 L123.75,2169.59 L125.19,2168.68 L126.68,2167.57 L127.97,2166.47 L129.30,2165.17 L130.53,2163.78 L131.69,2162.31 L132.86,2160.61 L133.95,2158.84 L135.04,2156.84 L136.05,2154.77 L138.15,2149.78 L140.51,2143.08 L142.97,2135.29 L145.12,2127.63 L147.13,2119.60 L148.95,2111.35 L150.67,2102.55 L151.99,2094.95 L153.26,2086.81 L154.48,2078.12 L155.70,2068.52 L158.77,2041.30 L161.77,2011.37 L164.21,1984.46 L166.67,1954.84 L169.05,1924.32 L175.44,1839.27 L177.53,1813.17 L179.64,1788.33 L182.51,1756.73 L185.51,1726.26 L188.53,1697.85 L190.95,1677.65 L192.33,1667.57 L193.73,1658.20 L195.22,1649.18 L196.77,1640.70 L198.48,1632.21 L200.27,1624.08 L202.15,1616.31 L204.02,1609.30 L205.61,1603.96 L207.07,1599.58 L208.53,1595.80 L210.13,1592.28 L211.89,1589.02 L213.89,1585.88 L216.11,1582.87 L218.54,1580.00 L221.53,1576.90 L224.89,1573.91 L228.44,1571.17 L232.16,1568.72 L236.02,1566.56 L240.16,1564.62 L244.43,1562.94 L249.13,1561.41 L253.94,1560.12 L259.00,1559.01 L264.49,1558.03 L270.75,1557.12 L279.37,1556.09 L288.71,1555.14 L298.05,1554.35 L307.56,1553.69 L317.59,1553.15 L327.98,1552.75 L338.72,1552.49 L349.64,1552.38 L668.60,1552.38" fill="none" stroke="#000000" stroke-width="2.5" stroke-linejoin="round" stroke-linecap="butt"/>
<line x1="122.72" y1="2172.90" x2="122.72" y2="2169.10" stroke="#262626" stroke-width="1"/>
<line x1="151.44" y1="2172.90" x2="151.44" y2="2169.10" stroke="#262626" stroke-width="1"/>
<line x1="180.16" y1="2172.90" x2="180.16" y2="2169.10" stroke="#262626" stroke-width="1"/>
<line x1="208.88" y1="2172.90" x2="208.88" y2="2169.10" stroke="#262626" stroke-width="1"/>
<line x1="237.60" y1="2172.90" x2="237.60" y2="2166.90" stroke="#262626" stroke-width="1"/>
<g transform="translate(220.25,2207.05) scale(1,1.065)"><text x="0" y="0" font-size="31.2">50</text></g>
<line x1="266.32" y1="2172.90" x2="266.32" y2="2169.10" stroke="#262626" stroke-width="1"/>
<line x1="295.04" y1="2172.90" x2="295.04" y2="2169.10" stroke="#262626" stroke-width="1"/>
<line x1="323.76" y1="2172.90" x2="323.76" y2="2169.10" stroke="#262626" stroke-width="1"/>
<line x1="352.48" y1="2172.90" x2="352.48" y2="2169.10" stroke="#262626" stroke-width="1"/>
<line x1="381.20" y1="2172.90" x2="381.20" y2="2166.90" stroke="#262626" stroke-width="1"/>
<g transform="translate(355.17,2207.05) scale(1,1.065)"><text x="0" y="0" font-size="31.2"> 00</text><path d="M765 0L585 0L585 1147Q520 1085 415 1023Q310 961 227 930L227 1104Q376 1174 488 1274Q600 1374 647 1466L765 1466Z" transform="translate(0.00,0) scale(0.015234,-0.014305)"/></g>
<line x1="409.92" y1="2172.90" x2="409.92" y2="2169.10" stroke="#262626" stroke-width="1"/>
<line x1="438.64" y1="2172.90" x2="438.64" y2="2169.10" stroke="#262626" stroke-width="1"/>
<line x1="467.36" y1="2172.90" x2="467.36" y2="2169.10" stroke="#262626" stroke-width="1"/>
<line x1="496.08" y1="2172.90" x2="496.08" y2="2169.10" stroke="#262626" stroke-width="1"/>
<line x1="524.80" y1="2172.90" x2="524.80" y2="2166.90" stroke="#262626" stroke-width="1"/>
<g transform="translate(498.77,2207.05) scale(1,1.065)"><text x="0" y="0" font-size="31.2"> 50</text><path d="M765 0L585 0L585 1147Q520 1085 415 1023Q310 961 227 930L227 1104Q376 1174 488 1274Q600 1374 647 1466L765 1466Z" transform="translate(0.00,0) scale(0.015234,-0.014305)"/></g>
<line x1="553.52" y1="2172.90" x2="553.52" y2="2169.10" stroke="#262626" stroke-width="1"/>
<line x1="582.24" y1="2172.90" x2="582.24" y2="2169.10" stroke="#262626" stroke-width="1"/>
<line x1="610.96" y1="2172.90" x2="610.96" y2="2169.10" stroke="#262626" stroke-width="1"/>
<line x1="639.68" y1="2172.90" x2="639.68" y2="2169.10" stroke="#262626" stroke-width="1"/>
<line x1="668.40" y1="2172.90" x2="668.40" y2="2166.90" stroke="#262626" stroke-width="1"/>
<g transform="translate(642.37,2207.05) scale(1,1.065)"><text x="0" y="0" font-size="31.2">200</text></g>
<line x1="94.00" y1="2131.10" x2="97.80" y2="2131.10" stroke="#262626" stroke-width="1"/>
<line x1="94.00" y1="2089.30" x2="97.80" y2="2089.30" stroke="#262626" stroke-width="1"/>
<line x1="94.00" y1="2047.50" x2="97.80" y2="2047.50" stroke="#262626" stroke-width="1"/>
<line x1="94.00" y1="2005.70" x2="100.00" y2="2005.70" stroke="#262626" stroke-width="1"/>
<g transform="translate(54.60,2018.10) scale(1,1.065)"><text x="0" y="0" font-size="31.2">20</text></g>
<line x1="94.00" y1="1963.90" x2="97.80" y2="1963.90" stroke="#262626" stroke-width="1"/>
<line x1="94.00" y1="1922.10" x2="97.80" y2="1922.10" stroke="#262626" stroke-width="1"/>
<line x1="94.00" y1="1880.30" x2="97.80" y2="1880.30" stroke="#262626" stroke-width="1"/>
<line x1="94.00" y1="1838.50" x2="100.00" y2="1838.50" stroke="#262626" stroke-width="1"/>
<g transform="translate(54.60,1850.90) scale(1,1.065)"><text x="0" y="0" font-size="31.2">40</text></g>
<line x1="94.00" y1="1796.70" x2="97.80" y2="1796.70" stroke="#262626" stroke-width="1"/>
<line x1="94.00" y1="1754.90" x2="97.80" y2="1754.90" stroke="#262626" stroke-width="1"/>
<line x1="94.00" y1="1713.10" x2="97.80" y2="1713.10" stroke="#262626" stroke-width="1"/>
<line x1="94.00" y1="1671.30" x2="100.00" y2="1671.30" stroke="#262626" stroke-width="1"/>
<g transform="translate(54.60,1683.70) scale(1,1.065)"><text x="0" y="0" font-size="31.2">60</text></g>
<line x1="94.00" y1="1629.50" x2="97.80" y2="1629.50" stroke="#262626" stroke-width="1"/>
<line x1="94.00" y1="1587.70" x2="97.80" y2="1587.70" stroke="#262626" stroke-width="1"/>
<line x1="94.00" y1="1545.90" x2="97.80" y2="1545.90" stroke="#262626" stroke-width="1"/>
<text x="561.50" y="1684.20" font-size="46">(e)</text>
<text transform="translate(33.90,1883.00) rotate(-90)" text-anchor="middle" font-size="38"><tspan font-style="italic">R</tspan> per cell</text>
</g>
<g id="pf">
<line x1="827.70" y1="2191.30" x2="1399.20" y2="2191.30" stroke="#5f5f5f" stroke-width="1.8"/>
<line x1="839.10" y1="1512.20" x2="839.10" y2="2225.70" stroke="#5f5f5f" stroke-width="1.8"/>
<path d="M839.10,2191.30 L1387.85,2191.30" fill="none" stroke="#15308f" stroke-width="2.0" stroke-linejoin="round" stroke-linecap="butt"/>
<path d="M839.10,2191.30 L846.67,2191.27 L848.04,2173.00 L854.31,2082.89 L858.35,2028.82 L860.68,1999.58 L863.01,1971.87 L865.35,1945.60 L867.72,1920.54 L870.26,1895.25 L872.85,1871.22 L875.48,1848.40 L878.17,1826.72 L880.92,1806.18 L883.73,1786.70 L886.60,1768.30 L889.55,1750.90 L892.28,1736.03 L895.08,1721.94 L897.96,1708.60 L900.91,1695.99 L903.94,1684.09 L907.06,1672.88 L910.28,1662.33 L913.59,1652.43 L917.01,1643.17 L920.54,1634.50 L924.19,1626.42 L927.98,1618.89 L931.91,1611.90 L933.94,1608.60 L936.00,1605.42 L938.11,1602.37 L940.25,1599.45 L942.45,1596.64 L944.68,1593.95 L948.52,1589.73 L952.50,1585.80 L956.65,1582.17 L960.97,1578.82 L965.47,1575.74 L970.18,1572.92 L975.10,1570.34 L980.27,1568.00 L985.68,1565.89 L991.39,1563.99 L997.39,1562.30 L1003.79,1560.79 L1010.59,1559.45 L1017.86,1558.28 L1025.66,1557.26 L1034.08,1556.38 L1041.57,1555.76 L1049.61,1555.22 L1058.31,1554.76 L1067.80,1554.37 L1089.56,1553.77 L1116.75,1553.39 L1147.65,1553.20 L1190.51,1553.09 L1387.85,1553.04" fill="none" stroke="#e60000" stroke-width="2.1" stroke-linejoin="round" stroke-linecap="butt"/>
<path d="M839.10,2191.30 L843.00,2191.20 L843.97,2191.04 L845.01,2190.73 L845.77,2190.37 L846.58,2189.82 L847.27,2189.18 L847.86,2188.43 L848.44,2187.45 L848.91,2186.38 L849.64,2183.83 L850.28,2179.97 L850.81,2175.09 L851.16,2169.77 L851.36,2163.05 L851.59,2143.05 L851.95,2124.70 L854.15,2043.83 L857.13,1904.45 L857.95,1871.35 L858.81,1841.68 L860.25,1801.41 L861.93,1764.02 L863.90,1728.36 L865.01,1711.10 L866.19,1694.21 L868.71,1662.30 L870.00,1647.85 L871.22,1635.33 L872.47,1623.78 L873.79,1612.85 L875.19,1602.55 L876.41,1594.72 L877.59,1588.42 L878.85,1582.71 L880.07,1578.12 L881.40,1574.10 L882.95,1570.31 L884.80,1566.65 L886.84,1563.36 L889.04,1560.47 L890.56,1558.81 L892.04,1557.39 L893.62,1556.11 L895.29,1554.96 L897.19,1553.84 L899.19,1552.87 L901.25,1552.02 L903.56,1551.23 L905.93,1550.56 L908.54,1549.96 L911.38,1549.44 L914.43,1549.00 L921.30,1548.33 L929.13,1547.97 L940.01,1547.86 L1028.19,1547.75 L1387.85,1547.74" fill="none" stroke="#000000" stroke-width="2.5" stroke-linejoin="round" stroke-linecap="butt"/>
<line x1="866.54" y1="2191.30" x2="866.54" y2="2187.50" stroke="#262626" stroke-width="1"/>
<line x1="893.98" y1="2191.30" x2="893.98" y2="2187.50" stroke="#262626" stroke-width="1"/>
<line x1="921.41" y1="2191.30" x2="921.41" y2="2187.50" stroke="#262626" stroke-width="1"/>
<line x1="948.85" y1="2191.30" x2="948.85" y2="2185.30" stroke="#262626" stroke-width="1"/>
<g transform="translate(922.82,2225.45) scale(1,1.065)"><text x="0" y="0" font-size="31.2">200</text></g>
<line x1="976.29" y1="2191.30" x2="976.29" y2="2187.50" stroke="#262626" stroke-width="1"/>
<line x1="1003.73" y1="2191.30" x2="1003.73" y2="2187.50" stroke="#262626" stroke-width="1"/>
<line x1="1031.16" y1="2191.30" x2="1031.16" y2="2187.50" stroke="#262626" stroke-width="1"/>
<line x1="1058.60" y1="2191.30" x2="1058.60" y2="2185.30" stroke="#262626" stroke-width="1"/>
<g transform="translate(1032.57,2225.45) scale(1,1.065)"><text x="0" y="0" font-size="31.2">400</text></g>
<line x1="1086.04" y1="2191.30" x2="1086.04" y2="2187.50" stroke="#262626" stroke-width="1"/>
<line x1="1113.47" y1="2191.30" x2="1113.47" y2="2187.50" stroke="#262626" stroke-width="1"/>
<line x1="1140.91" y1="2191.30" x2="1140.91" y2="2187.50" stroke="#262626" stroke-width="1"/>
<line x1="1168.35" y1="2191.30" x2="1168.35" y2="2185.30" stroke="#262626" stroke-width="1"/>
<g transform="translate(1142.32,2225.45) scale(1,1.065)"><text x="0" y="0" font-size="31.2">600</text></g>
<line x1="1195.79" y1="2191.30" x2="1195.79" y2="2187.50" stroke="#262626" stroke-width="1"/>
<line x1="1223.22" y1="2191.30" x2="1223.22" y2="2187.50" stroke="#262626" stroke-width="1"/>
<line x1="1250.66" y1="2191.30" x2="1250.66" y2="2187.50" stroke="#262626" stroke-width="1"/>
<line x1="1278.10" y1="2191.30" x2="1278.10" y2="2185.30" stroke="#262626" stroke-width="1"/>
<g transform="translate(1252.07,2225.45) scale(1,1.065)"><text x="0" y="0" font-size="31.2">800</text></g>
<line x1="1305.54" y1="2191.30" x2="1305.54" y2="2187.50" stroke="#262626" stroke-width="1"/>
<line x1="1332.97" y1="2191.30" x2="1332.97" y2="2187.50" stroke="#262626" stroke-width="1"/>
<line x1="1360.41" y1="2191.30" x2="1360.41" y2="2187.50" stroke="#262626" stroke-width="1"/>
<line x1="1387.85" y1="2191.30" x2="1387.85" y2="2185.30" stroke="#262626" stroke-width="1"/>
<g transform="translate(1353.15,2225.45) scale(1,1.065)"><text x="0" y="0" font-size="31.2"> 000</text><path d="M765 0L585 0L585 1147Q520 1085 415 1023Q310 961 227 930L227 1104Q376 1174 488 1274Q600 1374 647 1466L765 1466Z" transform="translate(0.00,0) scale(0.015234,-0.014305)"/></g>
<line x1="839.10" y1="2223.50" x2="842.90" y2="2223.50" stroke="#262626" stroke-width="1"/>
<line x1="839.10" y1="2159.10" x2="842.90" y2="2159.10" stroke="#262626" stroke-width="1"/>
<line x1="839.10" y1="2126.90" x2="842.90" y2="2126.90" stroke="#262626" stroke-width="1"/>
<line x1="839.10" y1="2094.70" x2="842.90" y2="2094.70" stroke="#262626" stroke-width="1"/>
<line x1="839.10" y1="2062.50" x2="845.10" y2="2062.50" stroke="#262626" stroke-width="1"/>
<g transform="translate(799.70,2074.90) scale(1,1.065)"><text x="0" y="0" font-size="31.2">20</text></g>
<line x1="839.10" y1="2030.30" x2="842.90" y2="2030.30" stroke="#262626" stroke-width="1"/>
<line x1="839.10" y1="1998.10" x2="842.90" y2="1998.10" stroke="#262626" stroke-width="1"/>
<line x1="839.10" y1="1965.90" x2="842.90" y2="1965.90" stroke="#262626" stroke-width="1"/>
<line x1="839.10" y1="1933.70" x2="845.10" y2="1933.70" stroke="#262626" stroke-width="1"/>
<g transform="translate(799.70,1946.10) scale(1,1.065)"><text x="0" y="0" font-size="31.2">40</text></g>
<line x1="839.10" y1="1901.50" x2="842.90" y2="1901.50" stroke="#262626" stroke-width="1"/>
<line x1="839.10" y1="1869.30" x2="842.90" y2="1869.30" stroke="#262626" stroke-width="1"/>
<line x1="839.10" y1="1837.10" x2="842.90" y2="1837.10" stroke="#262626" stroke-width="1"/>
<line x1="839.10" y1="1804.90" x2="845.10" y2="1804.90" stroke="#262626" stroke-width="1"/>
<g transform="translate(799.70,1817.30) scale(1,1.065)"><text x="0" y="0" font-size="31.2">60</text></g>
<line x1="839.10" y1="1772.70" x2="842.90" y2="1772.70" stroke="#262626" stroke-width="1"/>
<line x1="839.10" y1="1740.50" x2="842.90" y2="1740.50" stroke="#262626" stroke-width="1"/>
<line x1="839.10" y1="1708.30" x2="842.90" y2="1708.30" stroke="#262626" stroke-width="1"/>
<line x1="839.10" y1="1676.10" x2="845.10" y2="1676.10" stroke="#262626" stroke-width="1"/>
<g transform="translate(799.70,1688.50) scale(1,1.065)"><text x="0" y="0" font-size="31.2">80</text></g>
<line x1="839.10" y1="1643.90" x2="842.90" y2="1643.90" stroke="#262626" stroke-width="1"/>
<line x1="839.10" y1="1611.70" x2="842.90" y2="1611.70" stroke="#262626" stroke-width="1"/>
<line x1="839.10" y1="1579.50" x2="842.90" y2="1579.50" stroke="#262626" stroke-width="1"/>
<line x1="839.10" y1="1547.30" x2="845.10" y2="1547.30" stroke="#262626" stroke-width="1"/>
<g transform="translate(782.34,1559.70) scale(1,1.065)"><text x="0" y="0" font-size="31.2"> 00</text><path d="M765 0L585 0L585 1147Q520 1085 415 1023Q310 961 227 930L227 1104Q376 1174 488 1274Q600 1374 647 1466L765 1466Z" transform="translate(0.00,0) scale(0.015234,-0.014305)"/></g>
<line x1="839.10" y1="1515.10" x2="842.90" y2="1515.10" stroke="#262626" stroke-width="1"/>
<text x="1342.00" y="1684.20" font-size="46">(f)</text>
<text transform="translate(759.30,1883.00) rotate(-90)" text-anchor="middle" font-size="38"><tspan font-style="italic">R</tspan> per cell</text>
</g>
<text x="-1.3" y="42.6" font-size="43.3" font-weight="bold">A</text>
<text x="684.3" y="2290" font-size="46">time</text><text x="778.6" y="2290" font-size="46">(<tspan font-style="italic">s</tspan>)</text>
</svg>
</body></html>
